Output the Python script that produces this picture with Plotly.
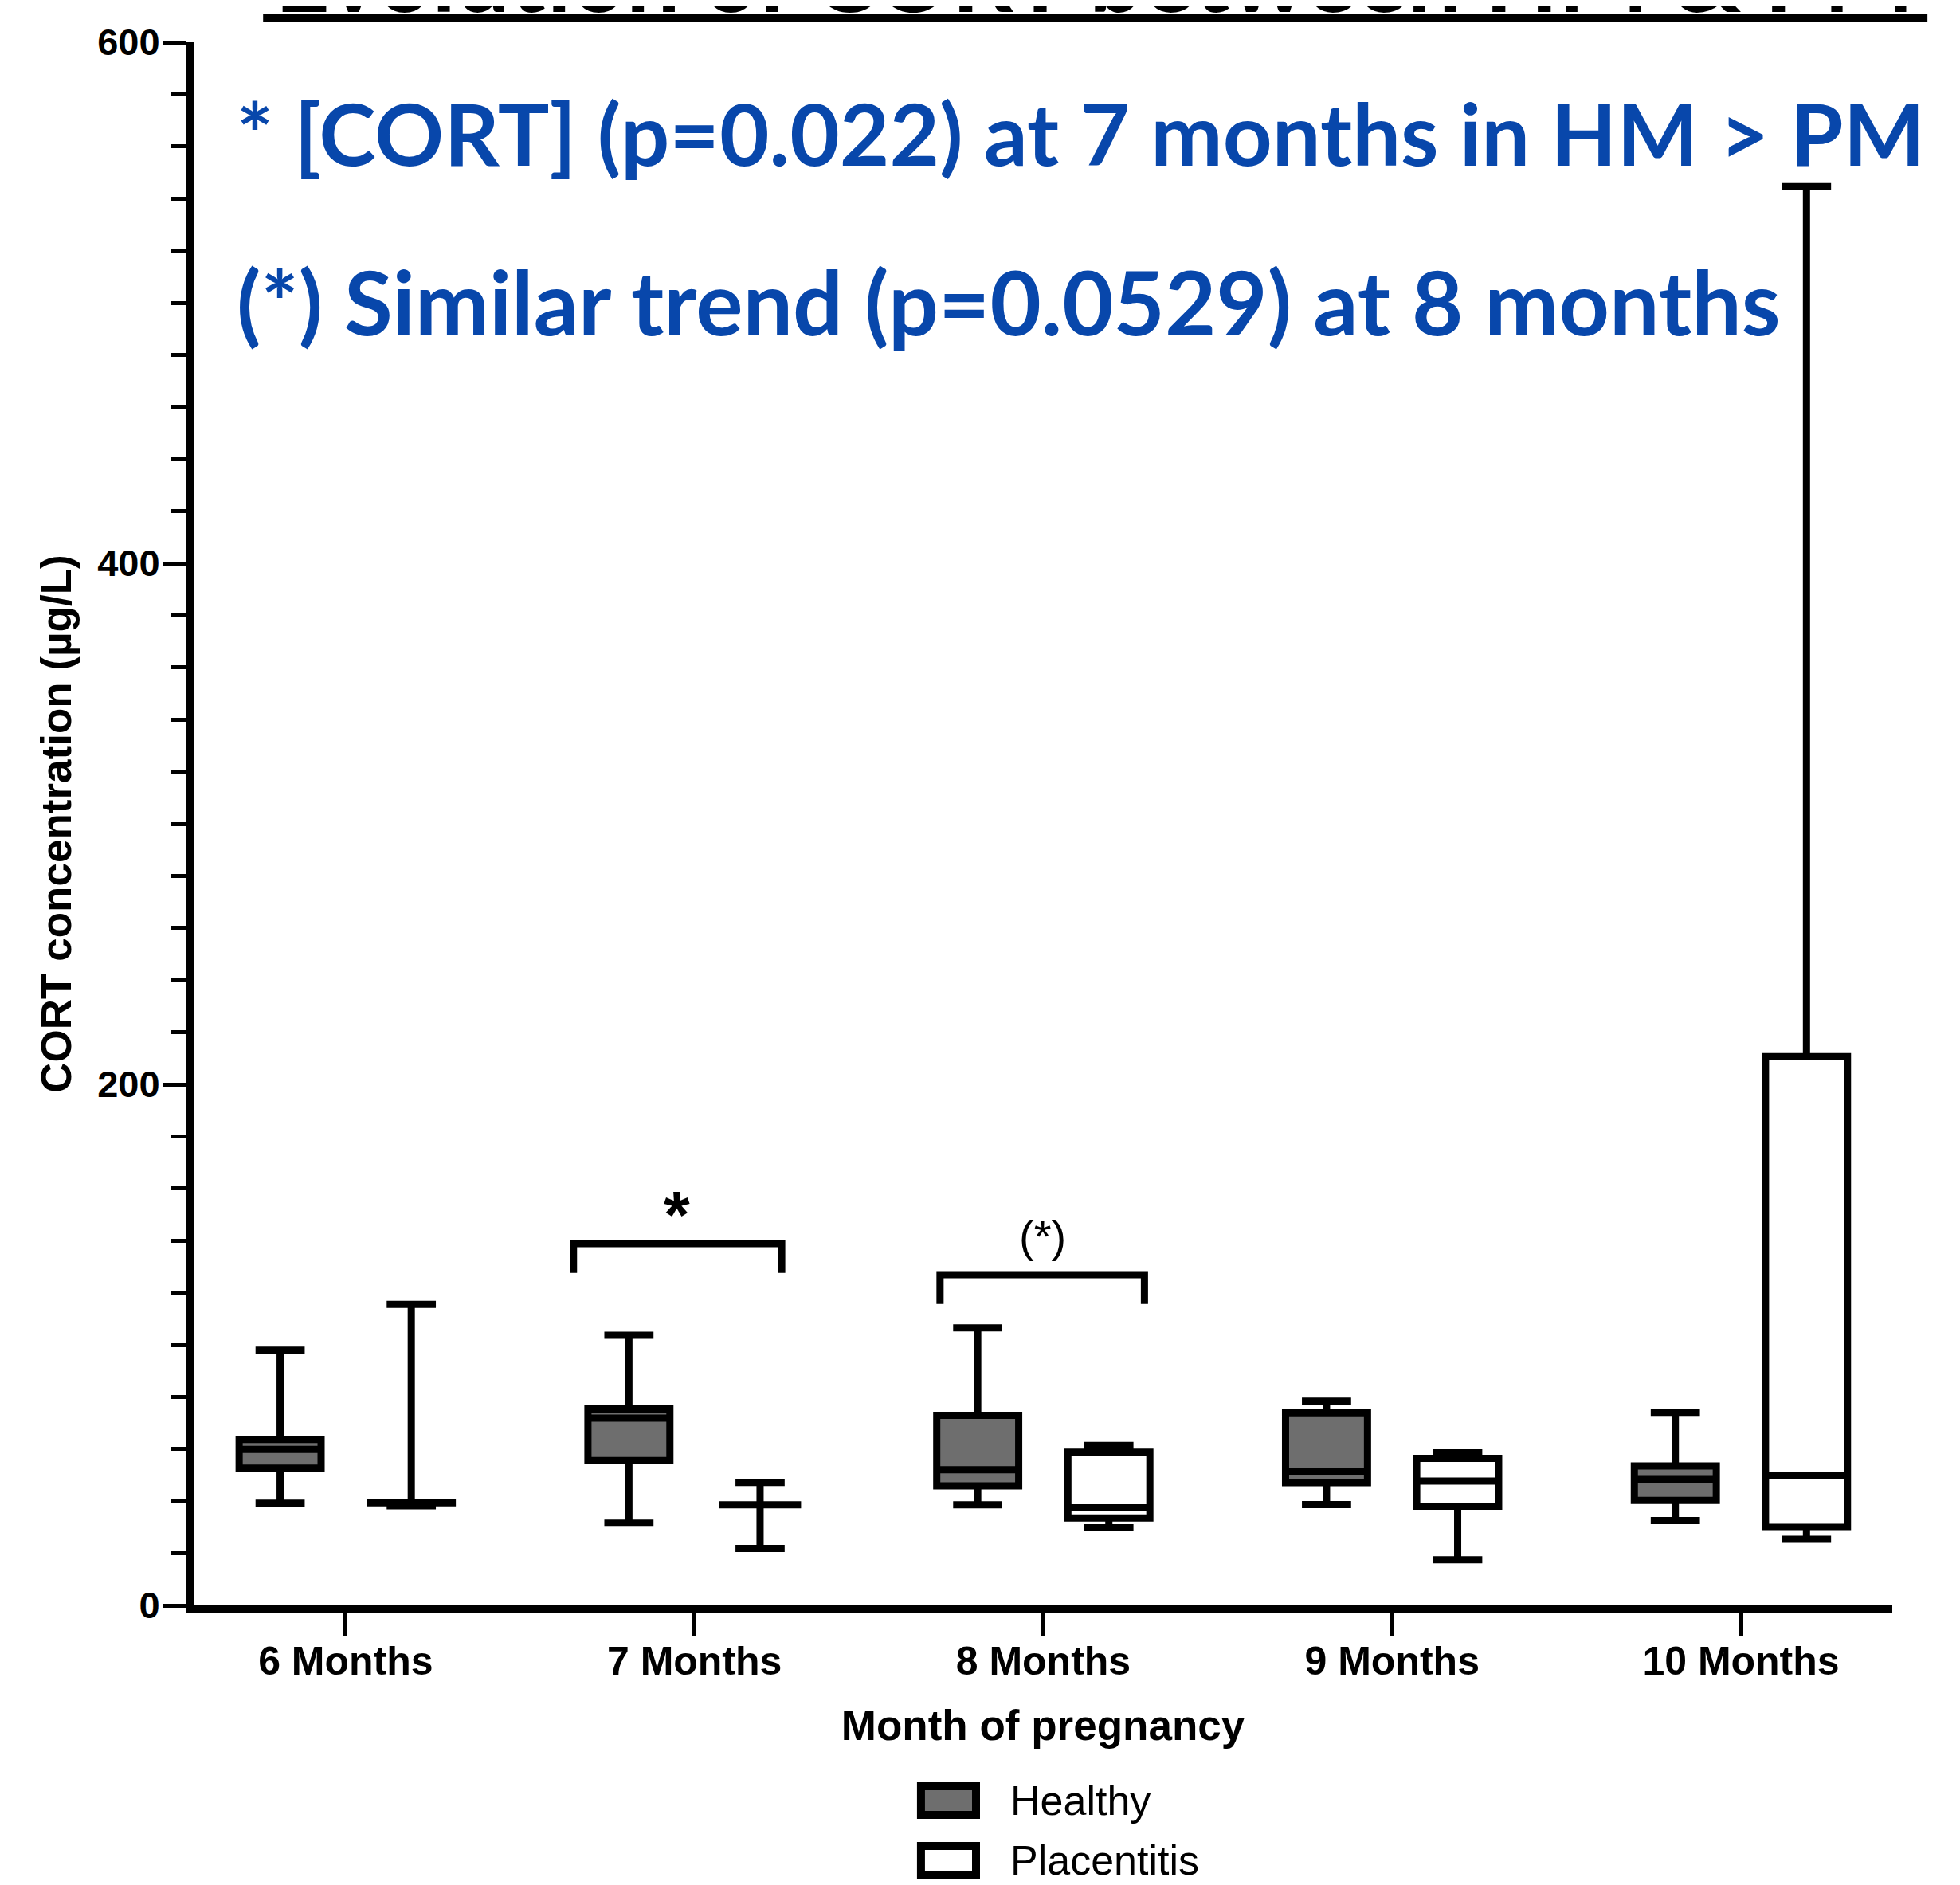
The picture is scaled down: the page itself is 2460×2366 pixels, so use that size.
import plotly.graph_objects as go

# ---------------- data ----------------
months = ["6 Months", "7 Months", "8 Months", "9 Months", "10 Months"]

healthy_lower = [39.2, 31.6, 38.6, 38.7, 32.6]
healthy_q1 = [52.7, 55.6, 45.9, 47.1, 40.3]
healthy_median = [59.9, 71.9, 52.1, 51.2, 48.3]
healthy_q3 = [63.7, 75.4, 72.9, 73.9, 53.5]
healthy_upper = [97.9, 103.7, 106.5, 78.4, 74.1]

plac_lower = [38.2, 21.9, 29.8, 17.5, 25.4]
plac_q1 = [39.4, 38.6, 33.6, 38.1, 30.0]
plac_median = [39.4, 38.6, 37.5, 47.7, 50.0]
plac_q3 = [39.6, 38.6, 58.8, 56.4, 210.6]
plac_upper = [115.5, 47.2, 61.4, 58.6, 544.6]

y_ticks = [0, 200, 400, 600]

# ---------------- layout helpers ----------------
OFFSET = 0.188
BOX_W = 0.235
idx = list(range(len(months)))
x_healthy = [i - OFFSET for i in idx]
x_plac = [i + OFFSET for i in idx]

BLUE = "#0847ab"
GRAY = "#6e6e6e"
AX_FONT = "Liberation Sans"

fig = go.Figure()

fig.add_trace(go.Box(
    name="Healthy", x=x_healthy,
    q1=healthy_q1, median=healthy_median, q3=healthy_q3,
    lowerfence=healthy_lower, upperfence=healthy_upper,
    width=BOX_W, whiskerwidth=0.6, boxpoints=False,
    fillcolor=GRAY, line=dict(color="black", width=9),
    showlegend=False, hoverinfo="skip",
))
fig.add_trace(go.Box(
    name="Placentitis", x=x_plac,
    q1=plac_q1, median=plac_median, q3=plac_q3,
    lowerfence=plac_lower, upperfence=plac_upper,
    width=BOX_W, whiskerwidth=0.6, boxpoints=False,
    fillcolor="white", line=dict(color="black", width=9),
    showlegend=False, hoverinfo="skip",
))

shapes = []
# significance brackets
for (x0, x1, ytop, yleg) in [(0.653, 1.250, 138.8, 127.6), (1.704, 2.290, 126.9, 115.7)]:
    shapes.append(dict(type="path", xref="x", yref="y",
                       path=f"M {x0},{yleg} L {x0},{ytop} L {x1},{ytop} L {x1},{yleg}",
                       line=dict(color="black", width=9)))

# custom legend
leg_items = [("Healthy", GRAY, -0.1157, -0.1340), ("Placentitis", "white", -0.1539, -0.1723)]
annotations = []
for name, col, y0, y1 in leg_items:
    shapes.append(dict(type="rect", xref="paper", yref="paper",
                       x0=0.4282, x1=0.4606, y0=y0, y1=y1,
                       fillcolor=col, line=dict(color="black", width=10)))
    annotations.append(dict(xref="paper", yref="paper", x=0.4798, y=(y0 + y1) / 2,
                            xanchor="left", yanchor="middle", showarrow=False,
                            text=name, font=dict(family=AX_FONT, size=52, color="black")))

# title (cut at the top of the image) with its underline
annotations.append(dict(xref="paper", yref="paper", x=0.5303, y=1.0051,
                        xanchor="center", yanchor="bottom", showarrow=False,
                        text="Evolution of CORT between HM & PM",
                        font=dict(family="Lato", size=120, color="black", weight="bold")))
shapes.append(dict(type="line", xref="paper", yref="paper",
                   x0=0.0409, x1=1.0207, y0=1.0155, y1=1.0155,
                   line=dict(color="black", width=11)))

# blue statements
annotations.append(dict(xref="paper", yref="paper", x=0.0245, y=0.9425,
                        xanchor="left", yanchor="middle", showarrow=False,
                        text="* [CORT] (p=0.022) at 7 months in HM > PM",
                        font=dict(family="Lato", size=108, color=BLUE, weight="bold")))
annotations.append(dict(xref="paper", yref="paper", x=0.0245, y=0.8345,
                        xanchor="left", yanchor="middle", showarrow=False,
                        text="(*) Similar trend (p=0.0529) at 8 months",
                        font=dict(family="Lato", size=111, color=BLUE, weight="bold")))

# significance marks
annotations.append(dict(xref="x", yref="y", x=0.95, y=152.9, yshift=-10,
                        xanchor="center", yanchor="middle", showarrow=False,
                        text="*", font=dict(family=AX_FONT, size=84, color="black", weight="bold")))
annotations.append(dict(xref="x", yref="y", x=1.997, y=141.6,
                        xanchor="center", yanchor="middle", showarrow=False,
                        text="(*)", font=dict(family=AX_FONT, size=56, color="black")))

# the page body keeps its default 8px margin, so the figure is 8px smaller
fig.update_layout(
    width=2452, height=2358,
    margin=dict(l=235, r=85, t=45, b=351, autoexpand=False),
    paper_bgcolor="white", plot_bgcolor="white",
    boxmode="overlay",
    shapes=shapes, annotations=annotations,
    xaxis=dict(
        range=[-0.436, 4.434], tickmode="array", tickvals=idx, ticktext=months,
        showline=True, linecolor="black", linewidth=10, automargin=False,
        ticks="outside", ticklen=29, tickwidth=5, tickcolor="black",
        showgrid=False, zeroline=False, ticklabelstandoff=-12,
        tickfont=dict(family=AX_FONT, size=50, color="black", weight="bold"),
        title=dict(text="Month of pregnancy", standoff=39,
                   font=dict(family=AX_FONT, size=53, color="black", weight="bold")),
    ),
    yaxis=dict(
        range=[0, 600], tickmode="array", tickvals=y_ticks,
        showline=True, linecolor="black", linewidth=10, automargin=False,
        ticks="outside", ticklen=29, tickwidth=5, tickcolor="black",
        minor=dict(dtick=20, ticks="outside", ticklen=18, tickwidth=5, tickcolor="black"),
        showgrid=False, zeroline=False, ticklabelstandoff=-6,
        tickfont=dict(family=AX_FONT, size=47, color="black", weight="bold"),
        title=dict(text="CORT concentration (µg/L)", standoff=20,
                   font=dict(family=AX_FONT, size=53, color="black", weight="bold")),
    ),
)

fig.write_html("out.html")
